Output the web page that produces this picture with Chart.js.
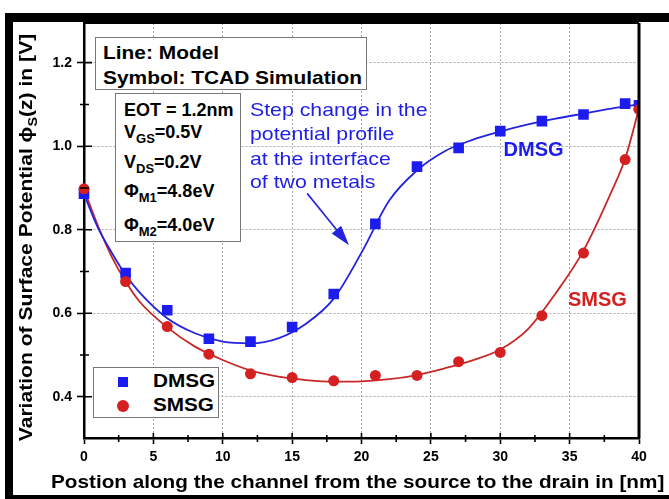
<!DOCTYPE html>
<html>
<head>
<meta charset="utf-8">
<script src="https://cdn.jsdelivr.net/npm/chart.js@4.4.1/dist/chart.umd.min.js"></script>
<style>
  body { margin: 0; background: #fff; }
  #wrap { position: relative; width: 669px; height: 499px; overflow: hidden; font-family: "Liberation Sans", Arial, sans-serif; }
  #chart { position: absolute; left: 0; top: 0; }
  .band { position: absolute; background: #000; }
  .box { position: absolute; border: 1px solid #777; background: #fff; }
  .t { position: absolute; white-space: nowrap; line-height: 1; font-weight: bold; color: #000; transform-origin: 0 50%; }
  .sub { font-size: 13px; position: relative; top: 5px; }
  .note { position: absolute; white-space: nowrap; line-height: 1; color: #1e1ee6; font-size: 19px; transform: scaleX(1.12); transform-origin: 0 50%; }
  .mk { position: absolute; }
</style>
</head>
<body>
<div id="wrap">
  <canvas id="chart" width="669" height="499"></canvas>

  <div class="band" style="left:5px;top:13px;width:664px;height:9px"></div>
  <div class="band" style="left:5px;top:13px;width:8px;height:486px"></div>
  <div class="band" style="left:5px;top:495px;width:664px;height:4px"></div>

  <!-- header boxes -->
  <div class="box" style="left:95px;top:37px;width:270px;height:51px"></div>
  <div class="t" style="left:103px;top:43px;font-size:19px;transform:scaleX(1.1)">Line: Model</div>
  <div class="t" style="left:103px;top:68px;font-size:19px;transform:scaleX(1.1)">Symbol: TCAD Simulation</div>

  <div class="box" style="left:115px;top:93px;width:124px;height:147px"></div>
  <div class="t" style="left:124px;top:101px;font-size:18px">EOT = 1.2nm</div>
  <div class="t" style="left:124px;top:123px;font-size:18px">V<span class="sub">GS</span>=0.5V</div>
  <div class="t" style="left:124px;top:153px;font-size:18px">V<span class="sub">DS</span>=0.2V</div>
  <div class="t" style="left:124px;top:182px;font-size:18px">Φ<span class="sub">M1</span>=4.8eV</div>
  <div class="t" style="left:124px;top:216px;font-size:18px">Φ<span class="sub">M2</span>=4.0eV</div>

  <div class="note" style="left:250px;top:100px">Step change in the</div>
  <div class="note" style="left:250px;top:124px">potential profile</div>
  <div class="note" style="left:250px;top:149px">at the interface</div>
  <div class="note" style="left:250px;top:172px">of two metals</div>

  <!-- legend -->
  <div class="box" style="left:93px;top:367px;width:124px;height:49px"></div>
  <div class="mk" style="left:118px;top:377px;width:10px;height:10px;background:#1c1cf0"></div>
  <div class="mk" style="left:117px;top:400px;width:12px;height:12px;border-radius:50%;background:#d42020"></div>
  <div class="t" style="left:153px;top:372px;font-size:18px;transform:scaleX(1.15)">DMSG</div>
  <div class="t" style="left:153px;top:396px;font-size:18px;transform:scaleX(1.15)">SMSG</div>

  <!-- axis titles -->
  <div class="t" style="left:-185px;top:228px;width:420px;text-align:center;font-size:19px;transform-origin:50% 50%;transform:rotate(-90deg) scaleX(1.11)">Variation of Surface Potential ϕ<span class="sub" style="font-size:13px">S</span>(z) in [V]</div>
  <div class="t" style="left:51px;top:472px;font-size:19px;transform:scaleX(1.09)">Postion along the channel from the source to the drain in [nm]</div>
</div>

<script>
// model curves (lines)
const xModel = [0, 1, 2, 3, 4, 6, 8, 10, 12, 14, 16, 18, 20, 22, 24, 26, 28, 30, 32, 34, 36, 38, 39, 40];
const dmsgModel = [0.885, 0.805, 0.745, 0.692, 0.65, 0.588, 0.552, 0.532, 0.528, 0.54, 0.575, 0.635, 0.745, 0.87, 0.942, 0.988, 1.015, 1.035, 1.052, 1.066, 1.078, 1.09, 1.095, 1.10];
const smsgModel = [0.897, 0.81, 0.735, 0.676, 0.628, 0.566, 0.52, 0.488, 0.463, 0.448, 0.44, 0.436, 0.437, 0.442, 0.452, 0.468, 0.487, 0.513, 0.562, 0.648, 0.75, 0.89, 0.97, 1.09];

// TCAD simulation (symbols)
const xTcad = [0, 3, 6, 9, 12, 15, 18, 21, 24, 27, 30, 33, 36, 39, 40];
const dmsgTcad = [0.886, 0.696, 0.607, 0.539, 0.532, 0.567, 0.646, 0.814, 0.951, 0.996, 1.036, 1.060, 1.076, 1.102, 1.098];
const smsgTcad = [0.898, 0.676, 0.568, 0.502, 0.455, 0.446, 0.438, 0.451, 0.451, 0.484, 0.506, 0.594, 0.744, 0.968, 1.088];

// axis ticks
const xTickValues = [0, 2.5, 5, 7.5, 10, 12.5, 15, 17.5, 20, 22.5, 25, 27.5, 30, 32.5, 35, 37.5, 40];
const xTickLabels = ['0', '5', '10', '15', '20', '25', '30', '35', '40'];
const yTickValues = [0.4, 0.5, 0.6, 0.7, 0.8, 0.9, 1.0, 1.1, 1.2];
const yTickLabels = ['0.4', '0.6', '0.8', '1.0', '1.2'];

const BLUE = '#1c1cf0';
const BLUE_LINE = '#2424e0';
const RED = '#d42020';
const RED_LINE = '#c82828';
const FONT = '"Liberation Sans", Arial, sans-serif';

function pts(xs, ys) {
    return xs.map(function (x, i) { return { x: x, y: ys[i] }; });
}

var xMajor = function (v) { return xTickLabels.indexOf(String(v)) >= 0; };
var yMajor = function (v) { return yTickLabels.indexOf(v.toFixed(1)) >= 0; };

// inner tick marks, minor ticks, top/right frame, arrow and curve labels
const extras = {
    id: 'extras',
    afterDraw(chart) {
        const { ctx, chartArea: a, scales: { x, y } } = chart;
        ctx.save();
        ctx.strokeStyle = '#000';
        ctx.lineWidth = 1.6;
        ctx.beginPath();
        x.ticks.forEach(function (t) {
            const px = x.getPixelForValue(t.value);
            if (xMajor(t.value)) {
                ctx.moveTo(px, a.bottom); ctx.lineTo(px, a.bottom - 5.5);
            } else {
                ctx.moveTo(px, a.bottom + 3.5); ctx.lineTo(px, a.bottom - 3.5);
            }
        });
        y.ticks.forEach(function (t) {
            const py = y.getPixelForValue(t.value);
            if (yMajor(t.value)) {
                ctx.moveTo(a.left, py); ctx.lineTo(a.left + 8, py);
            } else {
                ctx.moveTo(a.left - 4, py); ctx.lineTo(a.left + 5, py);
            }
        });
        ctx.stroke();

        ctx.lineWidth = 2;
        ctx.beginPath();
        ctx.moveTo(a.left, a.top); ctx.lineTo(a.right, a.top);
        ctx.stroke();
        ctx.lineWidth = 3;
        ctx.beginPath();
        ctx.moveTo(a.right, a.top); ctx.lineTo(a.right, a.bottom);
        ctx.stroke();

        // arrow to the step change
        const x0 = x.getPixelForValue(16.08), y0 = y.getPixelForValue(0.887);
        const x1 = x.getPixelForValue(19.1), y1 = y.getPixelForValue(0.763);
        const ang = Math.atan2(y1 - y0, x1 - x0);
        ctx.strokeStyle = BLUE_LINE;
        ctx.fillStyle = BLUE_LINE;
        ctx.lineWidth = 1.6;
        ctx.beginPath();
        ctx.moveTo(x0, y0);
        ctx.lineTo(x1 - 12 * Math.cos(ang), y1 - 12 * Math.sin(ang));
        ctx.stroke();
        ctx.beginPath();
        ctx.moveTo(x1, y1);
        ctx.lineTo(x1 - 20 * Math.cos(ang) + 6 * Math.sin(ang), y1 - 20 * Math.sin(ang) - 6 * Math.cos(ang));
        ctx.lineTo(x1 - 20 * Math.cos(ang) - 6 * Math.sin(ang), y1 - 20 * Math.sin(ang) + 6 * Math.cos(ang));
        ctx.closePath();
        ctx.fill();

        ctx.font = 'bold 20px ' + FONT;
        ctx.textAlign = 'center';
        ctx.textBaseline = 'middle';
        ctx.fillStyle = BLUE;
        ctx.fillText('DMSG', x.getPixelForValue(32.4), y.getPixelForValue(0.99));
        ctx.fillStyle = RED;
        ctx.fillText('SMSG', x.getPixelForValue(37.0), y.getPixelForValue(0.631));
        ctx.restore();
    }
};

new Chart(document.getElementById('chart'), {
    type: 'line',
    data: {
        datasets: [
            {
                label: 'SMSG',
                data: pts(xTcad, smsgTcad),
                showLine: false,
                pointStyle: 'circle',
                pointRadius: 5.5,
                backgroundColor: RED,
                borderColor: RED,
                borderWidth: 0,
                clip: { left: 8, top: 0, right: 0, bottom: 0 },
                order: 0
            },
            {
                label: 'DMSG',
                data: pts(xTcad, dmsgTcad),
                showLine: false,
                pointStyle: 'rect',
                pointRadius: 7.5,
                backgroundColor: BLUE,
                borderColor: BLUE,
                borderWidth: 0,
                clip: { left: 8, top: 0, right: 0, bottom: 0 },
                order: 1
            },
            {
                label: 'DMSG model',
                data: pts(xModel, dmsgModel),
                borderColor: BLUE_LINE,
                borderWidth: 1.8,
                pointRadius: 0,
                cubicInterpolationMode: 'monotone',
                order: 2
            },
            {
                label: 'SMSG model',
                data: pts(xModel, smsgModel),
                borderColor: RED_LINE,
                borderWidth: 1.8,
                pointRadius: 0,
                cubicInterpolationMode: 'monotone',
                order: 2
            }
        ]
    },
    options: {
        responsive: false,
        animation: false,
        devicePixelRatio: 1,
        layout: { padding: { left: 0, right: 30, top: 23, bottom: 0 } },
        plugins: {
            legend: { display: false },
            tooltip: { enabled: false }
        },
        scales: {
            x: {
                type: 'linear',
                min: 0,
                max: 40,
                afterBuildTicks: function (s) { s.ticks = xTickValues.map(function (v) { return { value: v }; }); },
                afterFit: function (s) { s.height = 60.5; },
                grid: {
                    color: function (c) { return c.tick && xMajor(c.tick.value) ? '#a8a8a8' : 'rgba(0,0,0,0)'; },
                    lineWidth: 1,
                    tickColor: function (c) { return c.tick && xMajor(c.tick.value) ? '#000' : 'rgba(0,0,0,0)'; },
                    tickLength: 5.5,
                    tickWidth: 1.6,
                    tickBorderDash: []
                },
                border: { display: true, color: '#000', width: 2.5, dash: [2, 2] },
                ticks: {
                    autoSkip: false,
                    maxRotation: 0,
                    padding: 5,
                    color: '#000',
                    font: { family: FONT, size: 14, weight: 'bold' },
                    callback: function (v) { return xMajor(v) ? String(v) : ''; }
                }
            },
            y: {
                type: 'linear',
                min: 0.3,
                max: 1.295,
                afterBuildTicks: function (s) { s.ticks = yTickValues.map(function (v) { return { value: v }; }); },
                afterFit: function (s) { s.width = 84; },
                grid: {
                    color: function (c) { return c.tick && yMajor(c.tick.value) ? '#a8a8a8' : 'rgba(0,0,0,0)'; },
                    lineWidth: 1,
                    tickColor: function (c) { return c.tick && yMajor(c.tick.value) ? '#000' : 'rgba(0,0,0,0)'; },
                    tickLength: 7,
                    tickWidth: 1.6,
                    tickBorderDash: []
                },
                border: { display: true, color: '#000', width: 2.5, dash: [2, 2] },
                ticks: {
                    autoSkip: false,
                    padding: 5,
                    color: '#000',
                    font: { family: FONT, size: 14, weight: 'bold' },
                    callback: function (v) { return yMajor(v) ? v.toFixed(1) : ''; }
                }
            }
        }
    },
    plugins: [extras]
});
</script>
</body>
</html>
